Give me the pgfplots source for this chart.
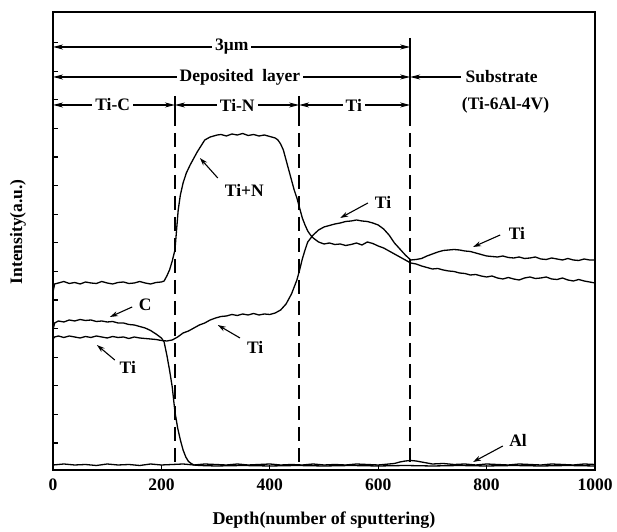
\documentclass[border=0pt]{standalone}
\usepackage{pgfplots}
\pgfplotsset{compat=1.18}
\usepackage{fontspec}
\setmainfont{Liberation Serif}
\usetikzlibrary{arrows.meta}
\newcommand{\lf}{\bfseries\fontsize{17.5bp}{20bp}\selectfont}
\newcommand{\lfx}{\bfseries\fontsize{18bp}{20bp}\selectfont}
\begin{document}
\begin{tikzpicture}
\begin{axis}[
  scale only axis, width=542bp, height=458bp,
  xmin=0, xmax=1000, ymin=0, ymax=458,
  axis line style={line width=1.5bp},
  xtick={0,200,...,1000}, ytick={27,55.6,...,428}, yticklabels={},
  tick align=inside, xtick pos=left, ytick pos=left,
  major tick length=5bp,
  tick style={line width=1.2bp, black},
  /pgf/number format/assume math mode=true,
  /pgf/number format/1000 sep={},
  xticklabel style={font=\lf, yshift=-5bp},
  xlabel={Depth(number of sputtering)},
  xlabel style={font=\lfx, at={(axis description cs:0.5,-0.109)}, anchor=center},
  ylabel={Intensity(a.u.)},
  ylabel style={font=\lf, at={(axis description cs:-0.0646,0.52)}, anchor=center, rotate=0},
  clip=false,
]
% Ti+N
\addplot[black, line width=1.3bp, no markers] coordinates {
(0,178)(3,186)(10,187)(20,188.5)(30,186.5)(40,187.5)(50,186)(60,188)(70,187)(80,186.5)(90,188.5)
(100,187)(110,186)(120,187.5)(130,188)(140,186.5)(150,187)(160,188.5)(170,187)(180,186)(190,187.5)
(200,188)(205,189)(210,194)(215,200)(220,209)(225,220)(228,240)(231,260)(235,275)(240,287)(246,297)
(253,305)(260,312)(266,318)(273,324)(280,330)(290,333)(303,335)(310,335.5)(320,334)(330,336)(340,335)
(350,336.5)(360,334.5)(370,335.5)(380,334)(390,335)(400,333.5)(410,332)(415,330)(420,326)(425,320)
(430,310)(435,300)(440,290)(445,280)(450,272)(455,262)(460,252)(465,245)(470,239)(475,235)(480,232)
(490,228)(500,226)(510,227)(520,225.5)(530,226)(540,224.5)(550,225.5)(560,227)(570,225)(580,228)
(590,226.5)(600,224)(610,222)(620,219)(630,216)(640,213)(650,210)(660,207)(670,206)(680,204)
(690,202.5)(700,201)(710,201.5)(720,200)(730,199)(740,198.5)(750,197)(760,196.5)(770,195)(780,195.5)
(790,194)(800,193)(810,194)(820,192)(830,191)(840,192.5)(850,191)(860,190)(870,192)(880,193)
(890,191.5)(900,192)(910,193)(920,191)(930,190.5)(940,192)(950,190)(960,189)(970,190.5)(980,189)
(990,188)(1000,187)};
% Ti
\addplot[black, line width=1.3bp, no markers] coordinates {
(0,131)(3,133)(10,134)(20,132.5)(30,134)(40,133)(50,132)(60,133.5)(70,132.5)(80,134)(90,133)
(100,132)(110,133.5)(120,132.5)(130,133)(140,131.5)(150,133)(160,132)(170,131.5)(180,131)(190,130.5)
(200,129.5)(210,129)(220,130)(230,133)(240,137)(250,139)(260,142)(270,145)(280,147)(290,150)
(300,152)(310,153.5)(320,154)(330,155.5)(340,154.5)(350,156)(360,155)(370,156.5)(380,155)(390,156)
(400,155.5)(410,157)(420,160)(430,166)(435,171)(440,176)(445,183)(450,190)(455,200)(460,211)
(465,220)(470,228)(480,235)(490,240)(500,243)(510,244.5)(520,246)(530,247)(540,248.5)(550,249)
(560,250)(570,249)(580,248.5)(590,247)(600,245)(610,241)(620,235)(630,227)(640,221)(650,215)
(660,210)(670,210.5)(680,211.5)(690,214)(700,216)(710,218)(720,219.5)(730,220)(740,220.5)(750,220)
(760,219)(770,218.5)(780,217)(790,215.5)(800,214)(810,213.5)(820,213)(830,214)(840,212.5)(850,212)
(860,213)(870,211.5)(880,212)(890,213)(900,211)(910,210.5)(920,212)(930,211)(940,210)(950,211.5)
(960,210)(970,209.5)(980,211)(990,210)(1000,210)};
% C
\addplot[black, line width=1.3bp, no markers] coordinates {
(0,140)(3,147)(10,149)(20,148)(30,150)(40,149)(50,150.5)(60,149.5)(70,150)(80,148.5)(90,149)
(100,148)(110,148.5)(120,147)(130,147)(140,145.5)(150,145)(160,143.5)(170,142)(180,139.5)(190,136)
(200,132)(205,128)(210,115)(215,100)(220,83)(225,58)(230,42)(235,30)(240,20)(245,13)(250,8.5)
(255,6.5)(260,5)(270,4.5)(300,4)(350,4.5)(400,4)(450,4.5)(500,4)(550,4.5)(600,4)(650,4.5)(700,4)
(750,4.5)(800,4)(850,4.5)(900,4)(950,4.5)(1000,4)};
% Al
\addplot[black, line width=1.3bp, no markers] coordinates {
(0,5)(20,6)(40,5)(60,5.5)(80,4.5)(100,6)(120,5)(140,5.5)(160,4.5)(180,6)(200,5)(220,5.5)(240,6)
(260,5)(280,6)(300,5.5)(320,5)(340,6)(360,5)(380,5.5)(400,6)(420,5)(440,5.5)(460,5)(480,6)(500,5)
(520,5.5)(540,5)(560,6)(580,5.5)(600,5)(620,6)(630,6.5)(640,8)(650,9)(660,9.5)(670,9)(680,8)
(690,7)(700,6)(720,6.5)(740,5.5)(760,6)(780,5)(800,6)(820,5.5)(840,5)(860,6)(880,5.5)(900,5)
(920,6)(940,5.5)(960,5)(980,6)(1000,5.5)};
% dashed separators
\draw[line width=1.4bp, dash pattern=on 14bp off 7bp] (axis cs:225,358) -- (axis cs:225,0);
\draw[line width=1.4bp, dash pattern=on 14bp off 7bp] (axis cs:454,358) -- (axis cs:454,0);
\draw[line width=1.4bp, dash pattern=on 14bp off 7bp] (axis cs:659,358) -- (axis cs:659,0);
\draw[line width=1.4bp] (axis cs:659,432) -- (axis cs:659,356);
\draw[line width=1.2bp] (axis cs:225,374) -- (axis cs:225,356);
\draw[line width=1.2bp] (axis cs:454,374) -- (axis cs:454,356);
% row arrows
\tikzset{rowarr/.style={line width=1.1bp, {Stealth[length=10bp,width=5bp,inset=3bp]}-{Stealth[length=10bp,width=5bp,inset=3bp]}}}
\draw[rowarr] (axis cs:0,423) -- (axis cs:659,423);
\node[font=\lf, fill=white, inner sep=3bp] at (axis cs:330,423) {3μm};
\draw[rowarr] (axis cs:0,393) -- (axis cs:659,393);
\node[font=\lf, fill=white, inner sep=3bp] at (axis cs:345,393) {Deposited\ \ layer};
\draw[line width=1.1bp, -{Stealth[length=10bp,width=5bp,inset=3bp]}] (axis cs:752,393) -- (axis cs:659,393);
\node[font=\lf, anchor=west] at (axis cs:755,393) {Substrate};
\draw[rowarr] (axis cs:0,365) -- (axis cs:225,365);
\node[font=\lf, fill=white, inner sep=3bp] at (axis cs:110,365) {Ti-C};
\draw[rowarr] (axis cs:225,365) -- (axis cs:454,365);
\node[font=\lf, fill=white, inner sep=3bp] at (axis cs:340,365) {Ti-N};
\draw[rowarr] (axis cs:454,365) -- (axis cs:659,365);
\node[font=\lf, fill=white, inner sep=3bp] at (axis cs:555,365) {Ti};
\node[font=\lf] at (axis cs:835,365) {(Ti-6Al-4V)};
% curve labels
\tikzset{lab/.style={line width=1.1bp, -{Stealth[length=8bp,width=5bp,inset=2.5bp]}}}
\node[font=\lf] at (axis cs:170,165) {C};
\draw[lab] (axis cs:146,163) -- (axis cs:105,153);
\node[font=\lf] at (axis cs:138,103) {Ti};
\draw[lab] (axis cs:114,110) -- (axis cs:81,125);
\node[font=\lf] at (axis cs:373,123) {Ti};
\draw[lab] (axis cs:345,132) -- (axis cs:304,145);
\node[font=\lf] at (axis cs:353,280) {Ti+N};
\draw[lab] (axis cs:304,292) -- (axis cs:271,312);
\node[font=\lf] at (axis cs:609,268) {Ti};
\draw[lab] (axis cs:581,267) -- (axis cs:530,252);
\node[font=\lf] at (axis cs:856,237) {Ti};
\draw[lab] (axis cs:825,235) -- (axis cs:775,223);
\node[font=\lf] at (axis cs:858,30) {Al};
\draw[lab] (axis cs:830,24) -- (axis cs:775,8);
% bounding box
\path (rel axis cs:-0.0978,-0.1332) rectangle (rel axis cs:1.0406,1.0262);
\end{axis}
\end{tikzpicture}
\end{document}
